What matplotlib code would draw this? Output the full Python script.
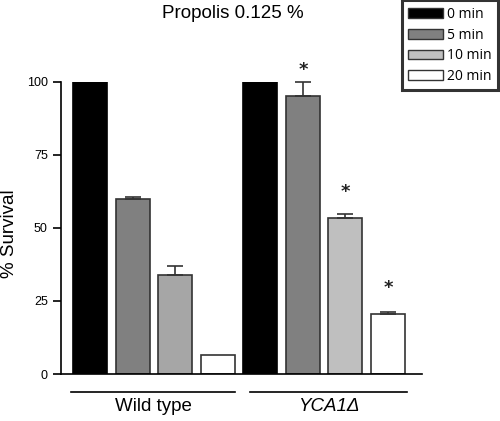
import matplotlib
matplotlib.use("Agg")
import matplotlib.pyplot as plt
import numpy as np
from matplotlib.patches import Patch
from matplotlib.lines import Line2D

plt.rcParams['font.family'] = ['Liberation Sans', 'DejaVu Sans']

groups = ["Wild type", "YCA1Δ"]
times = ["0 min", "5 min", "10 min", "20 min"]
wt_vals = [100, 60, 34, 6.5]
wt_err = [0, 0.7, 2.8, 0]
yca_vals = [100, 95, 53.3, 20.5]
yca_err = [0, 4.9, 1.5, 0.8]
yca_sig = [False, True, True, True]
wt_colors = ["#000000", "#808080", "#a6a6a6", "#ffffff"]
yca_colors = ["#000000", "#808080", "#bfbfbf", "#ffffff"]
yticks = [0, 25, 50, 75, 100]

fig = plt.figure(figsize=(5.0, 4.21), dpi=100)
ax = fig.add_axes([0.122, 0.1116, 0.722, 0.6944])

vals = wt_vals + yca_vals
errs = wt_err + yca_err
colors = wt_colors + yca_colors
x = np.arange(len(vals))
edges = ["#000000" if c == "#000000" else "#333333" for c in colors]
ax.bar(x, vals, width=0.8, color=colors, edgecolor=edges, linewidth=1.2, zorder=2)
for xi, v, e in zip(x, vals, errs):
    if e > 0:
        ax.errorbar(xi, v, yerr=[[0], [e]], fmt='none', ecolor='#333333',
                    elinewidth=1.2, capsize=6, capthick=1.2, zorder=3, clip_on=False)

for i, s in enumerate(yca_sig):
    if s:
        xi = 4 + i
        ax.text(xi, yca_vals[i] + 9, "*", ha='center', va='center',
                fontsize=13, fontweight='bold', family='DejaVu Sans', color='#222222',
                clip_on=False)

ax.set_xlim(-0.69, 7.8)
ax.set_ylim(0, 100)
ax.set_yticks(yticks)
ax.set_yticklabels([str(t) for t in yticks], fontsize=9)
ax.set_xticks([])
ax.spines['top'].set_visible(False)
ax.spines['right'].set_visible(False)
ax.spines['left'].set_linewidth(1.2)
ax.spines['bottom'].set_linewidth(1.2)
ax.tick_params(axis='y', length=6, width=1.2, pad=3.5)
ax.set_ylabel("% Survival", fontsize=13.5)
ax.yaxis.set_label_coords(-0.118, 0.48)

ax.set_title("Propolis 0.125 %", fontsize=13.5, x=0.475, pad=45.5)

# group lines and labels
trans = ax.get_xaxis_transform()
spans = [(x[0] - 0.45, x[3] + 0.4), (x[4] - 0.25, x[7] + 0.45)]
for (a, b), g in zip(spans, groups):
    ax.add_line(Line2D([a, b], [-0.06, -0.06], transform=trans, color='black',
                       lw=1.2, clip_on=False))
    style = 'italic' if g.startswith("YCA") else 'normal'
    ax.text((a + b) / 2, -0.11, g, transform=trans, ha='center', va='center',
            fontsize=13.5, style=style)

handles = [Patch(facecolor=c, edgecolor='#333333', linewidth=1) for c in yca_colors]
leg = fig.legend(handles, times, loc='upper right', bbox_to_anchor=(0.996, 0.999),
                 frameon=True, fancybox=False, edgecolor='black',
                 handlelength=2.5, handleheight=0.7, handletextpad=0.3,
                 labelspacing=0.42, borderpad=0.45, borderaxespad=0,
                 prop={'family': 'Open Sans', 'size': 10})
leg.get_frame().set_linewidth(2.2)

fig.savefig("out.png", dpi=100)
